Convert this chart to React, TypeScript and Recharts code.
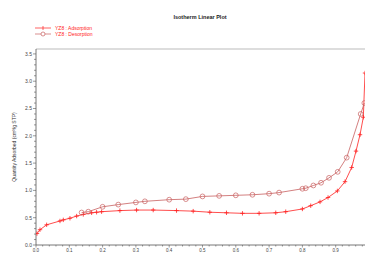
import { LineChart, Line, XAxis, YAxis, ReferenceLine, Legend } from 'recharts'

// relative pressure (P/Po) and quantity adsorbed (cm³/g STP)
const adsPressure = [0.003, 0.012, 0.032, 0.072, 0.082, 0.102, 0.122, 0.142, 0.167, 0.182, 0.197, 0.252, 0.302, 0.352, 0.422, 0.472, 0.522, 0.572, 0.62, 0.67, 0.72, 0.75, 0.8, 0.825, 0.853, 0.877, 0.905, 0.928, 0.948, 0.961, 0.973, 0.983, 0.988]
const adsQuantity = [0.21, 0.28, 0.37, 0.44, 0.46, 0.49, 0.53, 0.56, 0.59, 0.6, 0.61, 0.63, 0.64, 0.64, 0.63, 0.62, 0.6, 0.59, 0.58, 0.58, 0.59, 0.61, 0.66, 0.72, 0.79, 0.87, 0.99, 1.16, 1.42, 1.72, 2.02, 2.34, 3.15]

const desPressure = [0.986, 0.975, 0.933, 0.906, 0.88, 0.856, 0.833, 0.81, 0.8, 0.73, 0.7, 0.65, 0.6, 0.55, 0.5, 0.45, 0.4, 0.327, 0.3, 0.247, 0.2, 0.157, 0.137]
const desQuantity = [2.6, 2.4, 1.6, 1.34, 1.23, 1.14, 1.09, 1.04, 1.03, 0.96, 0.94, 0.92, 0.91, 0.9, 0.89, 0.84, 0.83, 0.8, 0.78, 0.74, 0.7, 0.61, 0.595]

const xMinor = Array.from({ length: 50 }, (_, i) => i / 50)
const yMinor = Array.from({ length: 36 }, (_, i) => i / 10)

const adsData = adsPressure.map((p, i) => ({ p, q: adsQuantity[i] }))
const desData = desPressure.map((p, i) => ({ p, q: desQuantity[i] }))

const ADS = '#ff2020'
const DES = '#c86060'
const AXIS = '#555'
const FONT = 'Liberation Sans, Arial, sans-serif'
const Y_TOP = 3.59

const PlusDot = (props: any) => {
  const { cx, cy } = props
  if (cx == null || cy == null) return null
  return <path d={`M${cx - 2.2},${cy}H${cx + 2.2}M${cx},${cy - 2.2}V${cy + 2.2}`} stroke={ADS} strokeWidth={0.8} />
}

const CircleDot = (props: any) => {
  const { cx, cy } = props
  if (cx == null || cy == null) return null
  return <circle cx={cx} cy={cy} r={2.4} stroke={DES} strokeWidth={0.7} fill="none" />
}

// major ticks get a label, minor ticks just a short line
const YTick = (props: any) => {
  const { x, y, payload } = props
  const v = payload.value
  const major = Math.abs(v * 2 - Math.round(v * 2)) < 1e-6
  return (
    <g>
      <line x1={x - (major ? 3 : 2)} x2={x} y1={y} y2={y} stroke={AXIS} strokeWidth={0.6} />
      {major && (
        <text x={x - 4} y={y + 1.8} textAnchor="end" fontSize={5} fill="#444" fontFamily={FONT}>
          {v.toFixed(1)}
        </text>
      )}
    </g>
  )
}

const XTick = (props: any) => {
  const { x, y, payload } = props
  const v = payload.value
  const major = Math.abs(v * 10 - Math.round(v * 10)) < 1e-6
  return (
    <g>
      <line x1={x} x2={x} y1={y} y2={y + (major ? 2.5 : 1.5)} stroke={AXIS} strokeWidth={0.6} />
      {major && (
        <text x={x} y={y + 6.5} textAnchor="middle" fontSize={4.5} fill="#444" fontFamily={FONT}>
          {v.toFixed(1)}
        </text>
      )}
    </g>
  )
}

const LegendBox = () => (
  <div style={{ fontFamily: FONT, fontSize: 5, lineHeight: '6px', color: ADS }}>
    <div style={{ display: 'flex', alignItems: 'center' }}>
      <svg width={18} height={6}>
        <line x1={1} x2={17} y1={3} y2={3} stroke={ADS} strokeWidth={0.7} />
        <line x1={9} x2={9} y1={1} y2={5} stroke={ADS} strokeWidth={0.7} />
      </svg>
      <span style={{ marginLeft: 3 }}>YZ8 : Adsorption</span>
    </div>
    <div style={{ display: 'flex', alignItems: 'center' }}>
      <svg width={18} height={6}>
        <line x1={1} x2={17} y1={3} y2={3} stroke={DES} strokeWidth={0.7} />
        <circle cx={9} cy={3} r={2} stroke={DES} strokeWidth={0.7} fill="white" />
      </svg>
      <span style={{ marginLeft: 3 }}>YZ8 : Desorption</span>
    </div>
  </div>
)

export default function App() {
  return (
    <div style={{ position: 'absolute', left: 0, top: 0, width: 365, height: 253, background: '#fff' }}>
      <div style={{ position: 'absolute', left: 0, top: 14, width: 400, textAlign: 'center', fontFamily: FONT, fontSize: 5.5, fontWeight: 'bold', color: '#222' }}>
        Isotherm Linear Plot
      </div>
      <LineChart width={365} height={253} margin={{ top: 37, right: 0, bottom: 0, left: 0 }}>
        <XAxis
          type="number"
          dataKey="p"
          domain={[0, 0.988]}
          ticks={xMinor}
          interval={0}
          tick={<XTick />}
          tickLine={false}
          tickSize={0}
          tickMargin={0}
          axisLine={{ stroke: AXIS, strokeWidth: 0.8 }}
          height={8}
          allowDataOverflow
        />
        <YAxis
          type="number"
          dataKey="q"
          domain={[0, Y_TOP]}
          ticks={yMinor}
          tick={<YTick />}
          tickLine={false}
          tickSize={0}
          tickMargin={0}
          axisLine={{ stroke: AXIS, strokeWidth: 0.8 }}
          width={36}
          interval={0}
          label={{
            value: 'Quantity Adsorbed (cm³/g STP)',
            angle: -90,
            position: 'insideLeft',
            offset: 14,
            style: { fontSize: 5, fill: '#333', fontFamily: FONT, textAnchor: 'middle' },
          }}
        />
        <ReferenceLine y={Y_TOP} stroke="#bbb" strokeWidth={1} />
        <Legend
          verticalAlign="top"
          align="left"
          content={<LegendBox />}
          wrapperStyle={{ top: 25, left: 34, width: 120 }}
        />
        <Line
          data={adsData}
          dataKey="q"
          type="linear"
          stroke={ADS}
          strokeWidth={0.8}
          dot={<PlusDot />}
          activeDot={false}
          isAnimationActive={false}
        />
        <Line
          data={desData}
          dataKey="q"
          type="linear"
          stroke={DES}
          strokeWidth={0.8}
          dot={<CircleDot />}
          activeDot={false}
          isAnimationActive={false}
        />
      </LineChart>
    </div>
  )
}
